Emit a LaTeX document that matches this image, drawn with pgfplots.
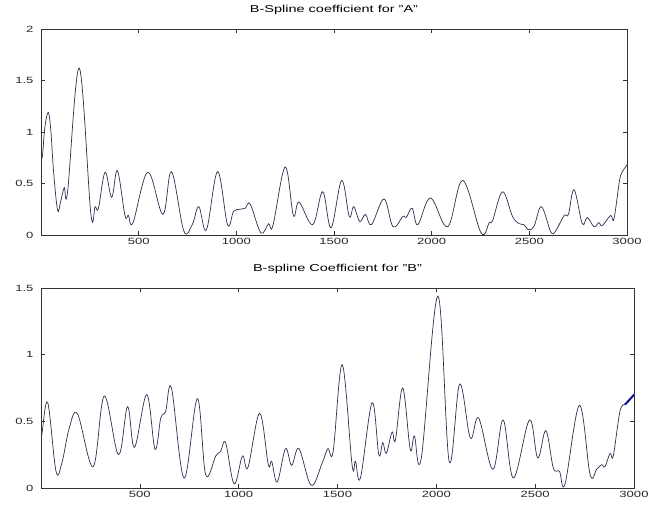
\documentclass[border=0pt]{standalone}
\usepackage{fontspec}
\setmainfont{Liberation Sans}[FakeStretch=1.45]
\usepackage{pgfplots}
\pgfplotsset{compat=1.18}
\definecolor{trace}{RGB}{45,45,80}
\definecolor{tailblue}{RGB}{10,10,150}
\definecolor{frame}{RGB}{50,50,50}

\pgfplotsset{mlab/.style={
  scale only axis, xmin=0, xmax=3000,
  xtick={500,1000,...,3000},
  tick align=inside, xtick pos=both, ytick pos=both,
  major tick length=4pt,
  axis line style={frame, line width=0.6pt},
  tick style={frame, line width=0.6pt},
  ticklabel style={font=\fontsize{9}{10}\selectfont, text=black!85},
  yticklabel style={xshift=-4pt},
  /pgf/number format/assume math mode=true,
  /pgf/number format/1000 sep={},
  scaled ticks=false,
  title style={font=\fontsize{10}{11}\selectfont, anchor=base, at={(0.5,1)}, yshift=10pt},
}}
\pgfplotsset{curve/.style={trace, no marks, line width=0.7pt, smooth, tension=0.6}}

\begin{document}
\begin{tikzpicture}
\useasboundingbox (0,0) rectangle (656pt,505pt);

\begin{axis}[mlab, at={(41pt,270pt)}, anchor=south west,
  width=586pt, height=206pt, ymin=0, ymax=2, ytick={0,0.5,...,2},
  title={B-Spline coefficient for "A"}]
\addplot[curve] coordinates {
(0,0.72) (8,0.78) (20,1.05) (37,1.19) (50,1.02) (65,0.6) (85,0.24) (100,0.32)
(119,0.46) (136,0.42) (196,1.62) (255,0.21) (277,0.275) (294,0.26) (328,0.61)
(362,0.365) (391,0.625) (430,0.19) (447,0.19) (471,0.12) (547,0.61) (624,0.2)
(668,0.615) (731,0.04) (774,0.1) (808,0.275) (847,0.05) (904,0.615) (955,0.10)
(986,0.23) (1020,0.25) (1046,0.26) (1071,0.30) (1126,0.02) (1165,0.11) (1187,0.09)
(1250,0.66) (1292,0.19) (1321,0.32) (1391,0.10) (1442,0.42) (1485,0.07) (1539,0.53)
(1578,0.18) (1601,0.275) (1632,0.13) (1661,0.20) (1692,0.10) (1756,0.35) (1802,0.08)
(1853,0.18) (1870,0.17) (1900,0.26) (1929,0.10) (1994,0.36) (2082,0.08) (2159,0.53)
(2253,0.02) (2295,0.12) (2312,0.14) (2363,0.42) (2414,0.18) (2448,0.11) (2473,0.10)
(2496,0.05) (2525,0.09) (2562,0.275) (2610,0.03) (2635,0.04) (2678,0.19) (2700,0.20)
(2729,0.44) (2771,0.11) (2797,0.17) (2831,0.08) (2856,0.12) (2873,0.09) (2916,0.19)
(2933,0.155) (2961,0.52) (2975,0.61) (3000,0.68)
};
\end{axis}

\begin{axis}[mlab, at={(41pt,17pt)}, anchor=south west,
  width=593pt, height=200pt, ymin=0, ymax=1.5, ytick={0,0.5,1,1.5},
  title={B-spline Coefficient for "B"}]
\addplot[curve] coordinates {
(0,0.38) (5,0.41) (34,0.64) (76,0.125) (106,0.19) (143,0.45) (185,0.555) (264,0.16)
(320,0.69) (392,0.25) (438,0.61) (473,0.305) (535,0.70) (577,0.29) (606,0.525)
(631,0.575) (660,0.75) (724,0.075) (791,0.67) (833,0.10) (884,0.24) (909,0.275)
(934,0.34) (977,0.03) (1019,0.24) (1047,0.155) (1106,0.56) (1150,0.175) (1167,0.2)
(1195,0.045) (1237,0.295) (1268,0.17) (1305,0.295) (1367,0.02) (1423,0.19) (1451,0.295)
(1478,0.275) (1524,0.925) (1574,0.17) (1591,0.2) (1616,0.075) (1675,0.64) (1709,0.25)
(1729,0.34) (1747,0.26) (1776,0.42) (1793,0.36) (1830,0.75) (1868,0.29) (1889,0.39)
(1924,0.225) (2008,1.44) (2065,0.2) (2118,0.78) (2172,0.375) (2214,0.525) (2286,0.14)
(2338,0.51) (2390,0.075) (2471,0.51) (2513,0.225) (2554,0.43) (2592,0.15) (2623,0.125)
(2651,0.03) (2724,0.62) (2778,0.10) (2811,0.14) (2836,0.175) (2853,0.16) (2879,0.26)
(2895,0.24) (2929,0.575) (2954,0.625)
};
\addplot[tailblue, no marks, line width=2pt] coordinates {
(2954,0.625) (2970,0.65) (2985,0.675) (3000,0.70)
};
\end{axis}
\end{tikzpicture}
\end{document}
